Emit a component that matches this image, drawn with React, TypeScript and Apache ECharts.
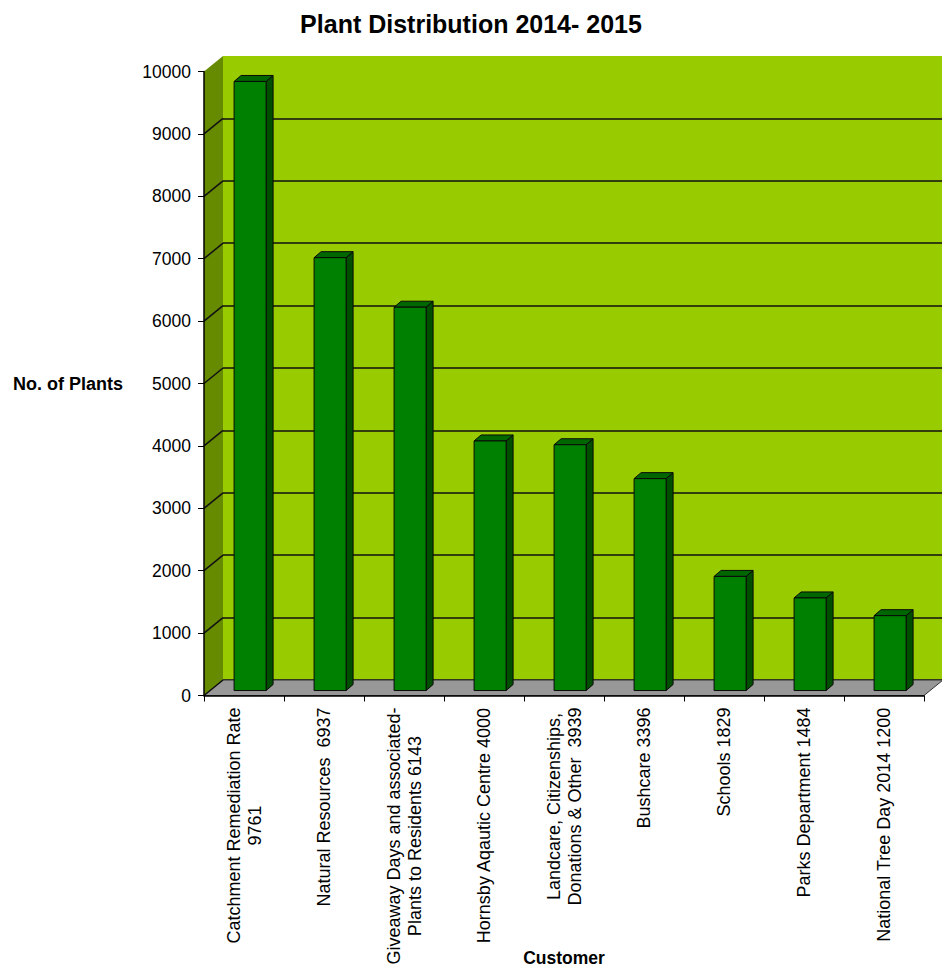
import React, { useEffect, useRef } from "react";
import * as echarts from "echarts";

const TITLE = "Plant Distribution 2014- 2015";
const Y_NAME = "No. of Plants";
const X_NAME = "Customer";
const categories = [
  "Catchment Remediation Rate\n9761",
  "Natural Resources  6937",
  "Giveaway Days and associated-\nPlants to Residents 6143",
  "Hornsby Aqautic Centre 4000",
  "Landcare, Citizenships,\nDonations & Other  3939",
  "Bushcare 3396",
  "Schools 1829",
  "Parks Department 1484",
  "National Tree Day 2014 1200",
];
const values = [9761, 6937, 6143, 4000, 3939, 3396, 1829, 1484, 1200];
const Y_MIN = 0;
const Y_MAX = 10000;
const Y_STEP = 1000;
const yTicks = [0, 1000, 2000, 3000, 4000, 5000, 6000, 7000, 8000, 9000];

const FONT = "'Liberation Sans', Arial, sans-serif";
const DEPTH_X = 19;
const DEPTH_Y = -15.5;

export default function App() {
  const ref = useRef<HTMLDivElement>(null);
  useEffect(() => {
    if (!ref.current) return;
    const chart = echarts.init(ref.current, null, { renderer: "svg" });
    const G1 = { left: 204, top: 71.5, width: 720, height: 624 };
    const G2 = {
      left: G1.left + DEPTH_X,
      top: G1.top + DEPTH_Y,
      width: 942 - (G1.left + DEPTH_X),
      height: 624,
    };
    const option: any = {
      animation: false,
      title: {
        text: TITLE,
        left: "center",
        top: 6,
        textStyle: { fontFamily: FONT, fontSize: 25, fontWeight: "bold", color: "#000" },
      },
      grid: [
        { ...G1, containLabel: false, outerBoundsMode: "none" },
        {
          ...G2,
          containLabel: false,
          outerBoundsMode: "none",
          show: true,
          backgroundColor: "#99CC00",
          borderWidth: 0,
        },
      ],
      xAxis: [
        {
          type: "category",
          gridIndex: 0,
          data: categories,
          z: 10,
          name: X_NAME,
          nameLocation: "middle",
          nameGap: 253,
          nameMoveOverlap: false,
          nameTextStyle: { fontFamily: FONT, fontSize: 17.5, fontWeight: "bold", color: "#000" },
          axisLine: { show: true, lineStyle: { color: "#000", width: 1.5 } },
          axisTick: { show: true, alignWithLabel: false, length: 6, lineStyle: { color: "#000" } },
          axisLabel: {
            interval: 0,
            rotate: 90,
            margin: 12,
            color: "#000",
            fontFamily: FONT,
            fontSize: 18,
            lineHeight: 21,
            formatter: (v: string) =>
              v
                .split("\n")
                .map((l) => "{c|" + l + "}")
                .join("\n"),
            rich: {
              c: { align: "center", fontFamily: FONT, fontSize: 18, lineHeight: 21, color: "#000" },
            },
          },
          splitLine: { show: false },
        },
        {
          type: "category",
          gridIndex: 1,
          data: categories,
          show: false,
        },
      ],
      yAxis: [
        {
          type: "value",
          gridIndex: 0,
          min: Y_MIN,
          max: Y_MAX,
          interval: Y_STEP,
          z: 10,
          name: Y_NAME,
          nameLocation: "middle",
          nameRotate: 0,
          nameGap: 81,
          nameTextStyle: { fontFamily: FONT, fontSize: 18, fontWeight: "bold", color: "#000", align: "right" },
          axisLine: { show: true, lineStyle: { color: "#000", width: 1.5 } },
          axisTick: { show: true, length: 6, lineStyle: { color: "#000" } },
          axisLabel: {
            margin: 13,
            color: "#000",
            fontFamily: FONT,
            fontSize: 17.5,
            formatter: (v: number) => String(v),
          },
          splitLine: { show: false },
        },
        {
          type: "value",
          gridIndex: 1,
          min: Y_MIN,
          max: Y_MAX,
          interval: Y_STEP,
          axisLine: { show: false },
          axisTick: { show: false },
          axisLabel: { show: false },
          splitLine: { show: true, showMaxLine: false, lineStyle: { color: "#111", width: 1.5 } },
        },
      ],
      series: [
        {
          type: "custom",
          name: "walls",
          xAxisIndex: 0,
          yAxisIndex: 0,
          z: 1,
          silent: true,
          data: [[0, 0]],
          renderItem: (params: any, api: any) => {
            const cs = params.coordSys;
            const x = cs.x;
            const y = cs.y;
            const w = cs.width;
            const h = cs.height;
            const children: any[] = [
              {
                type: "polygon",
                shape: {
                  points: [
                    [x, y + h],
                    [x, y],
                    [x + DEPTH_X, y + DEPTH_Y],
                    [x + DEPTH_X, y + h + DEPTH_Y],
                  ],
                },
                style: { fill: "#668A00", stroke: null },
              },
              {
                type: "polygon",
                shape: {
                  points: [
                    [x, y + h],
                    [x + w, y + h],
                    [x + w + DEPTH_X, y + h + DEPTH_Y],
                    [x + DEPTH_X, y + h + DEPTH_Y],
                  ],
                },
                style: { fill: "#989898", stroke: "#333", lineWidth: 1 },
              },
            ];
            yTicks.forEach((t) => {
              const py = api.coord([0, t])[1];
              children.push({
                type: "line",
                shape: { x1: x, y1: py, x2: x + DEPTH_X, y2: py + DEPTH_Y },
                style: { stroke: "#111", lineWidth: 1.5 },
              });
            });
            return { type: "group", children };
          },
        },
        {
          type: "custom",
          name: "No. of Plants",
          xAxisIndex: 0,
          yAxisIndex: 0,
          z: 3,
          data: values.map((v, i) => [i, v]),
          renderItem: (params: any, api: any) => {
            const i = api.value(0);
            const base = api.coord([i, 0]);
            const top = api.coord([i, api.value(1)]);
            const bw = api.size([1, 0])[0];
            const faceW = bw * 0.4;
            const ox = DEPTH_X * 0.32;
            const oy = DEPTH_Y * 0.32;
            const dx = 7;
            const dy = -6;
            const cx = base[0] + ox;
            const l = cx - faceW / 2;
            const r = cx + faceW / 2;
            const yb = base[1] + oy;
            const yt = top[1] + oy;
            const stroke = { stroke: "#0a0a0a", lineWidth: 1, lineJoin: "round" };
            return {
              type: "group",
              children: [
                {
                  type: "polygon",
                  shape: { points: [[r, yt], [r + dx, yt + dy], [r + dx, yb + dy], [r, yb]] },
                  style: { fill: "#004F00", ...stroke },
                },
                {
                  type: "polygon",
                  shape: { points: [[l, yt], [r, yt], [r + dx, yt + dy], [l + dx, yt + dy]] },
                  style: { fill: "#006600", ...stroke },
                },
                {
                  type: "rect",
                  shape: { x: l, y: yt, width: faceW, height: yb - yt },
                  style: { fill: "#008000", ...stroke },
                },
              ],
            };
          },
        },
      ],
    };
    chart.setOption(option);
    return () => chart.dispose();
  }, []);
  return (
    <div
      ref={ref}
      style={{ position: "absolute", left: 0, top: 0, width: 942, height: 973, background: "#fff" }}
    />
  );
}
